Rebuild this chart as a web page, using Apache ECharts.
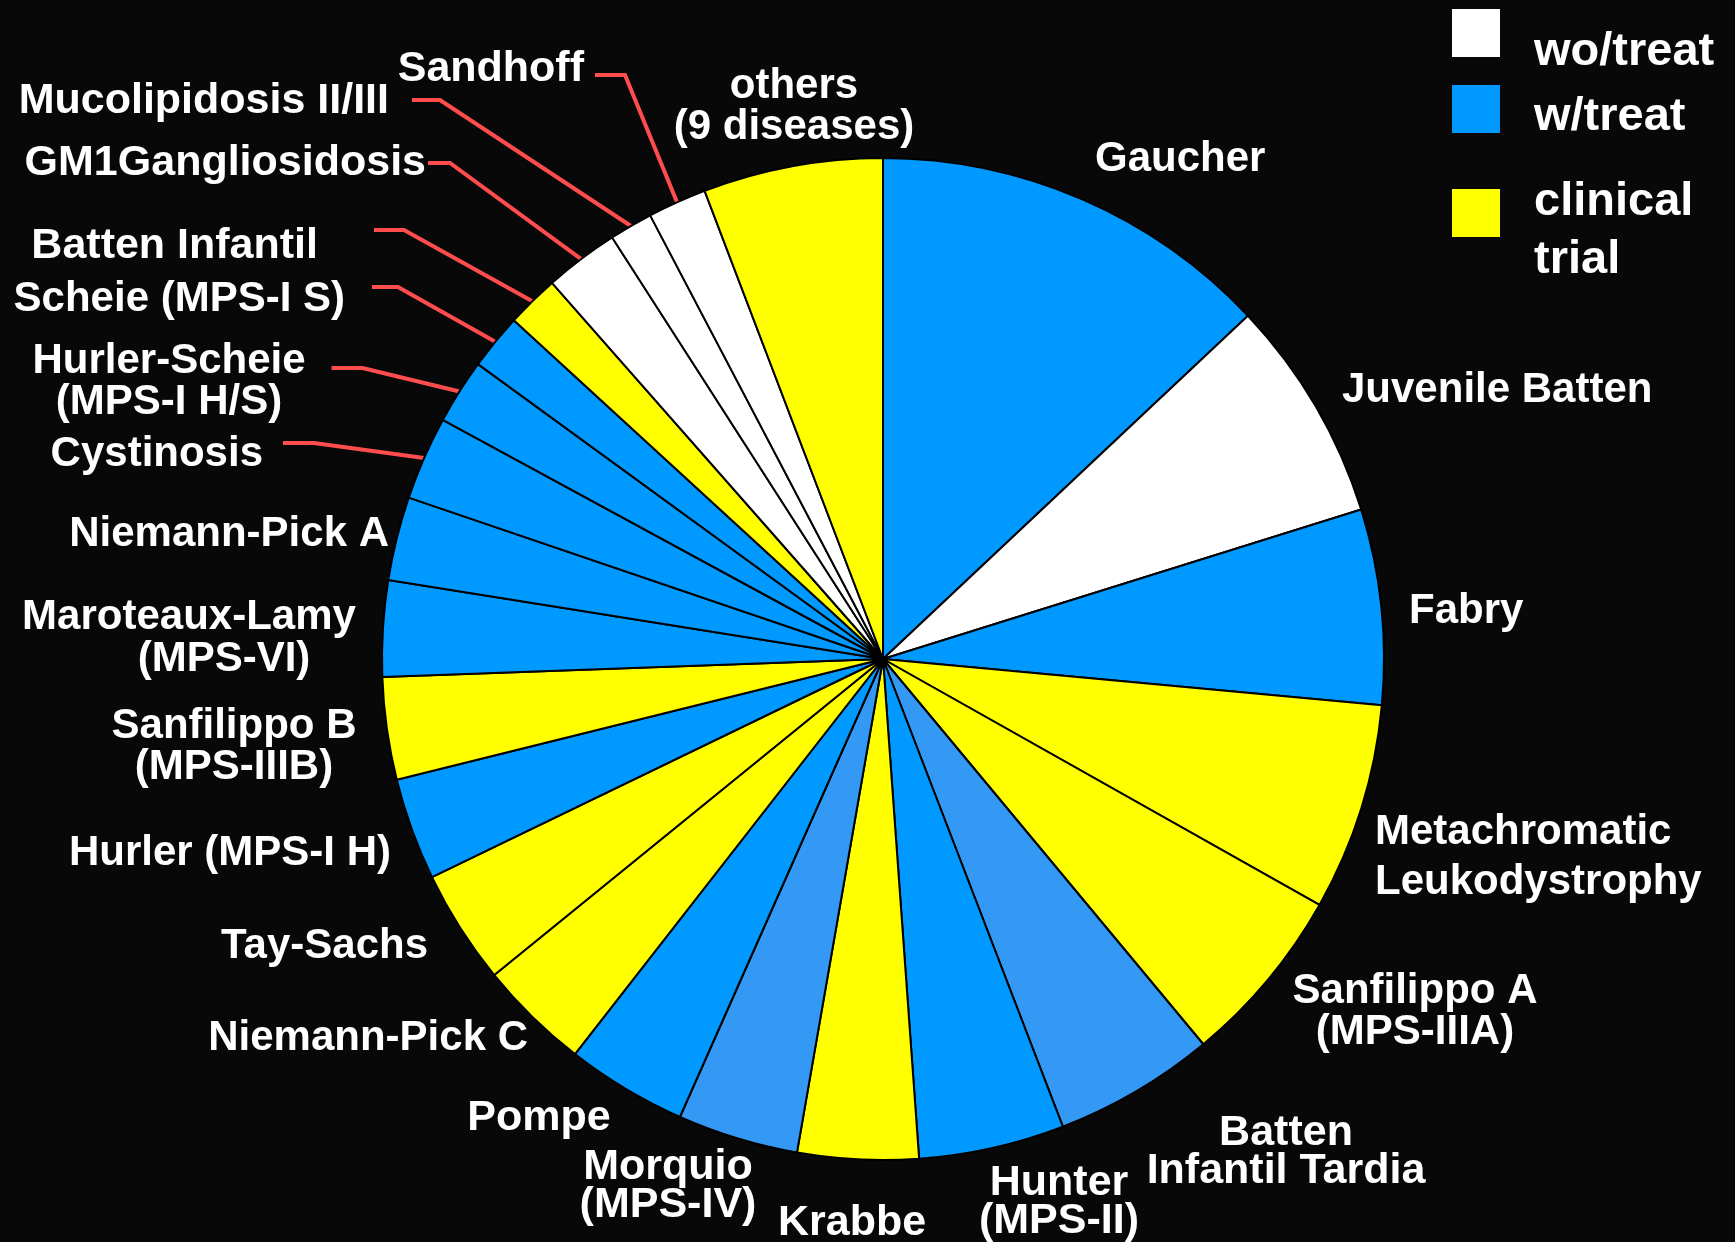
<!DOCTYPE html>
<html>
<head>
<meta charset="utf-8">
<script src="https://cdn.jsdelivr.net/npm/echarts@6/dist/echarts.min.js"></script>
<style>
  html, body { margin: 0; background: #080808; }
  #chart { width: 1735px; height: 1242px; }
</style>
</head>
<body>
<div id="chart"></div>
<script>
// diseases, clockwise from 12 o'clock
var diseases = ['Gaucher', 'Juvenile Batten', 'Fabry', 'Metachromatic\nLeukodystrophy',
  'Sanfilippo A\n(MPS-IIIA)', 'Batten\nInfantil Tardia', 'Hunter\n(MPS-II)', 'Krabbe',
  'Morquio\n(MPS-IV)', 'Pompe', 'Niemann-Pick C', 'Tay-Sachs', 'Hurler (MPS-I H)',
  'Sanfilippo B\n(MPS-IIIB)', 'Maroteaux-Lamy\n(MPS-VI)', 'Niemann-Pick A', 'Cystinosis',
  'Hurler-Scheie\n(MPS-I H/S)', 'Scheie (MPS-I S)', 'Batten Infantil', 'GM1Gangliosidosis',
  'Mucolipidosis II/III', 'Sandhoff', 'others\n(9 diseases)']
// share of the pie, %
var shares = [13.0, 7.2, 6.3, 6.7, 5.8, 5.2, 4.7, 3.9, 3.9, 3.9, 3.6, 3.7, 3.3, 3.3, 3.1,
  2.7, 2.7, 2.1, 1.8, 1.7, 2.4, 1.4, 1.9, 5.8]
// wo = without treatment, w = with treatment, ct = clinical trial
var treatStatus = ['w', 'wo', 'w', 'ct', 'ct', 'w2', 'w', 'ct', 'w2', 'w', 'ct', 'ct', 'w', 'ct',
  'w', 'w', 'w', 'w', 'w', 'ct', 'wo', 'wo', 'wo', 'ct']
var statusNames = ['wo/treat', 'w/treat', 'clinical\ntrial']
var statusKeys = ['wo', 'w', 'ct']
var colors = { wo: '#ffffff', w: '#0099ff', w2: '#3399f5', ct: '#ffff00' }

var tallLabels = ['Batten\nInfantil Tardia', 'Hunter\n(MPS-II)', 'Krabbe', 'Morquio\n(MPS-IV)',
  'Pompe', 'Batten Infantil', 'GM1Gangliosidosis', 'Mucolipidosis II/III', 'Sandhoff']

// label placement [x, y, align]
var labelPos = [
  [1095, 159, 'left'], [1342, 390, 'left'], [1409, 611, 'left'], [1375, 857, 'left'],
  [1415, 1012, 'center'], [1286, 1152, 'center'], [1059, 1202, 'center'], [852, 1223, 'center'],
  [668, 1186, 'center'], [539, 1118, 'center'], [528, 1038, 'right'], [428, 946, 'right'],
  [391, 853, 'right'], [234, 747, 'center'], [189, 638, 'center'], [389, 534, 'right'],
  [263, 454, 'right'], [169, 382, 'center'], [345, 299, 'right'], [318, 246, 'right'],
  [426, 163, 'right'], [389, 101, 'right'], [584, 69, 'right'], [794, 107, 'center']
]
// red leader lines: index -> [gap from label, horizontal length, dy]
var leaders = {
  16: [20, 31, -11], 17: [26, 31, -14], 18: [27, 26, -12], 19: [56, 30, -16],
  20: [2, 22, 0], 21: [23, 28, -1], 22: [11, 30, 6]
}

var SANS = '"Liberation Sans", Arial, sans-serif'
var txt = { color: '#fff', fontFamily: SANS, fontWeight: 'bold', fontSize: 42 }

var data = diseases.map(function (name, i) {
  var item = {
    name: name,
    value: shares[i],
    itemStyle: { color: colors[treatStatus[i]] }
  }
  if (tallLabels.indexOf(name) >= 0) {
    item.label = { fontSize: 43, lineHeight: 38 }
  }
  if (i === 3) item.label = { lineHeight: 50 }
  if (i === 14) {
    item.label = {
      formatter: '{a|Maroteaux-Lamy}\n{b|(MPS-VI)}',
      rich: {
        a: Object.assign({ lineHeight: 42 }, txt),
        b: Object.assign({ lineHeight: 42, padding: [0, 0, 0, 70] }, txt)
      }
    }
  }
  if (leaders[i]) {
    item.labelLine = { show: true }
  }
  return item
})

var legendGraphics = []
var legendY = [33, 109, 213]
statusKeys.forEach(function (k, i) {
  legendGraphics.push({
    type: 'rect',
    shape: { x: 1452, y: legendY[i] - 24, width: 48, height: 48 },
    style: { fill: colors[k] }
  })
  legendGraphics.push({
    type: 'text',
    x: 1534,
    y: legendY[i] + [19, 8, 18][i],
    style: {
      text: statusNames[i], fill: '#fff', font: 'bold 47px ' + SANS,
      verticalAlign: 'middle', lineHeight: 58
    }
  })
})

var chart = echarts.init(document.getElementById('chart'))
var option = {
  backgroundColor: '#080808',
  animation: false,
  graphic: legendGraphics,
  series: [
    {
      type: 'pie',
      center: [883, 659],
      radius: 501,
      startAngle: 90,
      clockwise: true,
      avoidLabelOverlap: false,
      silent: true,
      data: data,
      itemStyle: { borderColor: '#000', borderWidth: 2 },
      label: Object.assign({ show: true, position: 'outside', lineHeight: 41 }, txt),
      labelLine: {
        show: false,
        length: 10,
        length2: 10,
        lineStyle: { color: '#ff4d4d', width: 4 }
      },
      labelLayout: function (p) {
        var pos = labelPos[p.dataIndex]
        var out = { x: pos[0], y: pos[1], align: pos[2], verticalAlign: 'middle' }
        var ld = leaders[p.dataIndex]
        if (ld && p.labelLinePoints) {
          var w = p.labelRect.width
          var right = pos[2] === 'right' ? pos[0] : (pos[2] === 'center' ? pos[0] + w / 2 : pos[0] + w)
          var y0 = pos[1] + ld[2]
          out.labelLinePoints = [p.labelLinePoints[0], [right + ld[0] + ld[1], y0], [right + ld[0], y0]]
        }
        return out
      }
    }
  ]
}
chart.setOption(option)
</script>
</body>
</html>
